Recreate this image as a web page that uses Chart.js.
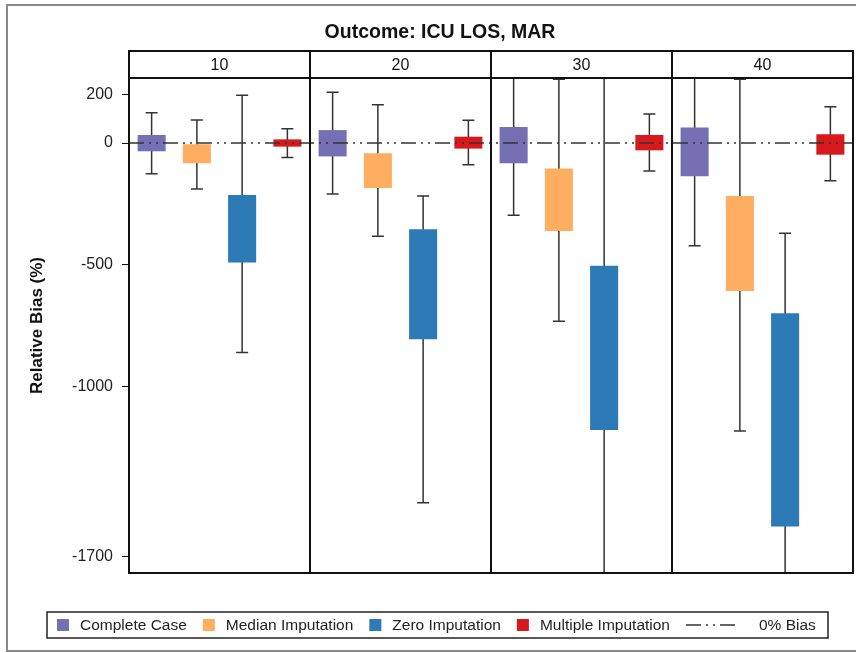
<!DOCTYPE html>
<html>
<head>
<meta charset="utf-8">
<script src="https://cdn.jsdelivr.net/npm/chart.js@4.4.0/dist/chart.umd.min.js"></script>
<style>
    html, body { margin: 0; padding: 0; background: #fff; }
    #wrap { width: 856px; height: 653px; }
</style>
</head>
<body>
<div id="wrap"><canvas id="grafico" width="856" height="653"></canvas></div>
<script>
// paineis = % de dados faltantes
const paineis = ['10', '20', '30', '40'];
const metodos = ['Complete Case', 'Median Imputation', 'Zero Imputation', 'Multiple Imputation'];
const cores = ['#7570b3', '#fdae61', '#2c7bb6', '#d7191c'];

// cada painel: [bigode inferior, Q1, Q3, bigode superior]
const completeCase = [[-126, -34, 33, 124], [-209, -55, 53, 208], [-297, -83, 66, 320], [-422, -137, 64, 330]];
const medianImputation = [[-189, -83, -5, 94], [-383, -185, -42, 157], [-732, -361, -105, 262], [-1183, -608, -218, 262]];
const zeroImputation = [[-860, -491, -214, 196], [-1477, -806, -354, -218], [-2100, -1179, -504, 450], [-2300, -1575, -699, -371]];
const multipleImputation = [[-59, -15, 15, 59], [-89, -23, 26, 93], [-115, -30, 33, 119], [-155, -48, 36, 149]];

const yTicks = [200, 0, -500, -1000, -1700];
const yMin = -1766;
const yMax = 267;
const linhaRef = 0;

const titulo = 'Outcome: ICU LOS, MAR';
const tituloY = 'Relative Bias (%)';
const legendaRef = '0% Bias';

const series = [completeCase, medianImputation, zeroImputation, multipleImputation];
const fonte = '"Liberation Sans", Arial, sans-serif';

const datasets = series.map(function (s, i) {
    return {
        label: metodos[i],
        data: s.map(function (p) { return [p[1], p[2]]; }),
        backgroundColor: cores[i],
        borderWidth: 0,
        categoryPercentage: 1.0,
        barPercentage: 0.62
    };
});

const extras = {
    id: 'extras',
    beforeDatasetsDraw(chart) {
        // bigodes
        const ctx = chart.ctx;
        const y = chart.scales.y;
        const a = chart.chartArea;
        ctx.save();
        ctx.beginPath();
        ctx.rect(a.left, a.top, a.right - a.left, a.bottom - a.top);
        ctx.clip();
        ctx.strokeStyle = '#333';
        ctx.lineWidth = 1.5;
        series.forEach(function (s, i) {
            const meta = chart.getDatasetMeta(i);
            s.forEach(function (p, j) {
                const x = meta.data[j].x;
                const lo = y.getPixelForValue(p[0]);
                const hi = y.getPixelForValue(p[3]);
                ctx.beginPath();
                ctx.moveTo(x, lo);
                ctx.lineTo(x, hi);
                ctx.moveTo(x - 6, lo);
                ctx.lineTo(x + 6, lo);
                ctx.moveTo(x - 6, hi);
                ctx.lineTo(x + 6, hi);
                ctx.stroke();
            });
        });
        ctx.restore();
    },
    afterDatasetsDraw(chart) {
        // linha de 0%
        const ctx = chart.ctx;
        const a = chart.chartArea;
        const yy = chart.scales.y.getPixelForValue(linhaRef);
        ctx.save();
        ctx.strokeStyle = '#333';
        ctx.lineWidth = 1.5;
        ctx.setLineDash([15, 5, 2, 5, 2, 5]);
        ctx.beginPath();
        ctx.moveTo(a.left, yy);
        ctx.lineTo(a.right, yy);
        ctx.stroke();
        ctx.restore();
    },
    afterDraw(chart) {
        const ctx = chart.ctx;
        const a = chart.chartArea;
        const x = chart.scales.x;
        const w = x.getPixelForValue(1) - x.getPixelForValue(0);
        const topoFaixa = 51;

        ctx.save();
        // moldura dos paineis + faixa
        ctx.strokeStyle = '#111';
        ctx.lineWidth = 2;
        ctx.strokeRect(a.left, topoFaixa, a.right - a.left, a.bottom - topoFaixa);
        ctx.beginPath();
        ctx.moveTo(a.left, a.top);
        ctx.lineTo(a.right, a.top);
        for (let i = 1; i < paineis.length; i++) {
            const bx = x.getPixelForValue(i) - w / 2;
            ctx.moveTo(bx, topoFaixa);
            ctx.lineTo(bx, a.bottom);
        }
        ctx.stroke();

        ctx.fillStyle = '#111';
        ctx.font = '16px ' + fonte;
        ctx.textAlign = 'center';
        ctx.textBaseline = 'middle';
        paineis.forEach(function (p, i) {
            ctx.fillText(p, x.getPixelForValue(i), (topoFaixa + a.top) / 2 + 1);
        });

        // titulo
        ctx.font = 'bold 19.5px ' + fonte;
        ctx.fillText(titulo, 440, 33);

        // legenda
        const lx = 47, ly = 612, lw = 781, lh = 26;
        ctx.lineWidth = 1.5;
        ctx.strokeStyle = '#222';
        ctx.strokeRect(lx, ly, lw, lh);
        ctx.font = '15.5px ' + fonte;
        ctx.textAlign = 'left';
        const cy = ly + lh / 2;
        let px = 57;
        metodos.forEach(function (m, i) {
            ctx.fillStyle = cores[i];
            ctx.fillRect(px, cy - 6, 12, 12);
            ctx.fillStyle = '#222';
            ctx.fillText(m, px + 23, cy + 1);
            px += 23 + ctx.measureText(m).width + 16;
        });
        ctx.strokeStyle = '#333';
        ctx.setLineDash([15, 5, 2, 5, 2, 5]);
        ctx.beginPath();
        ctx.moveTo(px, cy);
        ctx.lineTo(px + 51, cy);
        ctx.stroke();
        ctx.setLineDash([]);
        ctx.fillText(legendaRef, px + 73, cy + 1);

        // borda externa
        ctx.strokeStyle = '#888';
        ctx.lineWidth = 2;
        ctx.strokeRect(7, 5, 860, 646);
        ctx.restore();
    }
};

const config = {
    type: 'bar',
    data: { labels: paineis, datasets: datasets },
    options: {
        responsive: false,
        animation: false,
        devicePixelRatio: 1,
        layout: { padding: { left: 0, right: 3, top: 78, bottom: 80 } },
        plugins: {
            legend: { display: false },
            tooltip: { enabled: false }
        },
        scales: {
            x: { display: false, stacked: false },
            y: {
                min: yMin,
                max: yMax,
                afterFit: function (scale) { scale.width = 129; },
                afterBuildTicks: function (scale) {
                    scale.ticks = yTicks.map(function (v) { return { value: v }; });
                },
                grid: { display: true, drawOnChartArea: false, drawTicks: true, tickLength: 7, color: '#111', tickColor: '#111' },
                border: { display: false },
                ticks: {
                    padding: 9,
                    color: '#222',
                    font: { family: fonte, size: 16 },
                    callback: function (v) { return String(v); }
                },
                title: {
                    display: true,
                    text: tituloY,
                    color: '#111',
                    font: { family: fonte, size: 17, weight: 'bold' },
                    padding: { top: 27, bottom: 0 }
                }
            }
        }
    },
    plugins: [extras]
};

let grafico = new Chart(document.getElementById('grafico'), config);
</script>
</body>
</html>
